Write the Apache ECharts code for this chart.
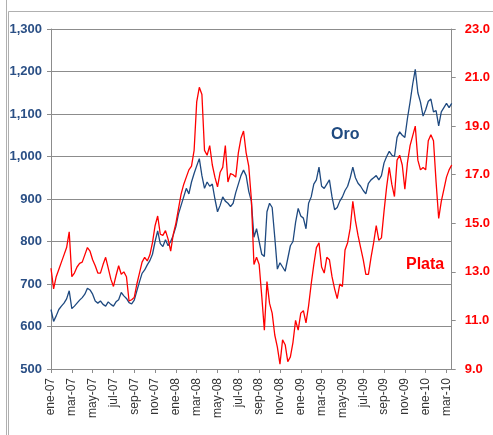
<!DOCTYPE html>
<html>
<head>
<meta charset="utf-8">
<style>
  html, body { margin: 0; padding: 0; background: #fff; }
  #chart { width: 493px; height: 435px; }
</style>
<script src="https://cdn.jsdelivr.net/npm/echarts@6/dist/echarts.min.js"></script>
</head>
<body>
<div id="chart"></div>
<script>
// Oro (US$/oz, eje izq.) y Plata (US$/oz, eje der.), ene-07 a mar-10
// una muestra cada 1/4 de mes
const paso = 0.25

const meses = ['ene', 'feb', 'mar', 'abr', 'may', 'jun', 'jul', 'ago', 'sep', 'oct', 'nov', 'dic']

const oro = [
  640, 612, 625, 640, 648, 655, 665, 684, 642, 648, 655, 662,
  668, 676, 690, 686, 676, 660, 655, 660, 652, 648, 658, 652,
  648, 658, 663, 680, 672, 666, 656, 653, 662, 684, 705, 725,
  733, 745, 755, 770, 800, 825, 795, 788, 804, 790, 800, 815,
  835, 865, 885, 905, 925, 912, 940, 960, 978, 995, 955, 925,
  940, 930, 935, 900, 870, 885, 905, 895, 890, 882, 890, 915,
  935, 955, 968, 955, 918, 895, 810, 830, 800, 770, 765, 870,
  890, 880, 810, 735, 750, 740, 730, 760, 790, 800, 845, 878,
  860, 855, 830, 890, 905, 935, 945, 975, 930, 925, 935, 945,
  905, 875, 880, 895, 905, 920, 930, 950, 975, 950, 937, 930,
  920, 912, 937, 945, 950, 955, 945, 955, 985, 1000, 1012, 1003,
  1000, 1045, 1058, 1050, 1045, 1090, 1128, 1170, 1205, 1150, 1128, 1095,
  1110, 1130, 1135, 1105, 1108, 1072, 1105, 1115, 1125, 1115, 1125
]

const plata = [
  13.15, 12.3, 12.8, 13.1, 13.4, 13.7, 14.0, 14.65, 12.8, 12.95, 13.2, 13.35,
  13.4, 13.7, 14.0, 13.85, 13.5, 13.25, 12.95, 12.95, 13.3, 13.6, 13.15, 12.7,
  12.4, 12.85, 13.25, 12.9, 13.0, 12.8, 11.8, 11.85, 11.95, 12.5, 12.95, 13.4,
  13.6, 13.45, 13.7, 14.2, 14.9, 15.3, 14.55, 14.5, 14.7, 14.35, 13.85, 14.55,
  15.0, 15.6, 16.2, 16.6, 16.9, 17.2, 17.35, 18.0, 20.0, 20.6, 20.3, 18.0,
  17.8, 18.2, 17.4, 16.9, 16.5, 17.1, 17.3, 18.2, 16.7, 17.05, 17.0, 16.9,
  17.9, 18.5, 18.8, 17.9, 17.35, 16.0, 13.3, 13.6, 13.3, 12.0, 10.6, 12.6,
  11.7, 11.3, 10.4, 9.9, 9.2, 10.2, 10.0, 9.3, 9.5, 10.1, 11.0, 10.6,
  11.3, 11.4, 10.9, 11.6, 12.5, 13.3, 14.0, 14.2, 13.2, 12.95, 13.6, 13.5,
  12.8, 12.3, 11.9, 12.5, 12.4, 13.9, 14.2, 14.8, 15.9, 15.1, 14.5, 14.0,
  13.5, 12.9, 12.9, 13.6, 14.2, 14.9, 14.3, 14.4, 15.5, 16.5, 17.3, 16.6,
  16.1, 17.6, 17.8, 17.4, 16.4, 17.5, 18.2, 18.6, 19.0, 17.6, 17.2, 17.3,
  17.2, 18.4, 18.65, 18.4, 16.7, 15.2, 15.9, 16.4, 16.9, 17.2, 17.4
]

const azul = '#1F4A80'
const rojo = '#FF0000'

function serie(valores) {
  return valores.map((v, i) => [i * paso, v])
}

function etiquetaMes(v) {
  if (Math.abs(v - Math.round(v)) > 1e-6) return ''
  const m = Math.round(v)
  if (m % 2 !== 0) return ''
  const anio = 7 + Math.floor(m / 12)
  return meses[m % 12] + '-' + String(anio).padStart(2, '0')
}

const chart = echarts.init(document.getElementById('chart'), null, { renderer: 'canvas' })

chart.setOption({
  animation: false,
  backgroundColor: '#fff',
  grid: { left: 51, right: 31, top: 29, bottom: 66, containLabel: false },
  xAxis: {
    type: 'value',
    min: 0,
    max: 38.5,
    interval: 2,
    axisLine: { lineStyle: { color: '#8c8c8c', width: 1 } },
    axisTick: { show: true, length: 4, lineStyle: { color: '#8c8c8c' } },
    splitLine: { show: false },
    axisLabel: {
      rotate: 90,
      margin: 9,
      fontFamily: 'Liberation Sans, Arial, sans-serif',
      fontSize: 12,
      color: '#333',
      showMaxLabel: false,
      formatter: etiquetaMes
    }
  },
  yAxis: [
    {
      type: 'value',
      min: 500,
      max: 1300,
      interval: 100,
      axisLine: { show: true, lineStyle: { color: '#8c8c8c' } },
      axisTick: { show: true, length: 4, lineStyle: { color: '#8c8c8c' } },
      splitLine: { show: true, lineStyle: { color: '#8c8c8c', width: 1 } },
      axisLabel: {
        margin: 9,
        fontFamily: 'Liberation Sans, Arial, sans-serif',
        fontSize: 13,
        fontWeight: 'bold',
        color: '#2A4F85',
        formatter: v => v.toLocaleString('en-US')
      }
    },
    {
      type: 'value',
      min: 9,
      max: 23,
      interval: 2,
      position: 'right',
      axisLine: { show: true, lineStyle: { color: '#8c8c8c' } },
      axisTick: { show: true, length: 4, lineStyle: { color: '#8c8c8c' } },
      splitLine: { show: false },
      axisLabel: {
        margin: 13,
        fontFamily: 'Liberation Sans, Arial, sans-serif',
        fontSize: 13,
        fontWeight: 'bold',
        color: rojo,
        formatter: v => v.toFixed(1)
      }
    }
  ],
  series: [
    {
      name: 'Oro',
      type: 'line',
      yAxisIndex: 0,
      data: serie(oro),
      showSymbol: false,
      lineStyle: { color: azul, width: 1.3 },
      itemStyle: { color: azul },
      z: 2
    },
    {
      name: 'Plata',
      type: 'line',
      yAxisIndex: 1,
      data: serie(plata),
      showSymbol: false,
      lineStyle: { color: rojo, width: 1.3 },
      itemStyle: { color: rojo },
      z: 3
    }
  ],
  graphic: [
    // marco exterior
    { type: 'line', shape: { x1: 6.5, y1: 0, x2: 6.5, y2: 435 }, style: { stroke: '#b0b0b0', lineWidth: 1 } },
    { type: 'polyline', shape: { points: [[8.5, 435], [8.5, 11.5], [493, 11.5]] }, style: { stroke: '#b0b0b0', lineWidth: 1, fill: null } },
    // rótulos de las series
    {
      type: 'text', left: 331, top: 127,
      style: { text: 'Oro', fill: azul, font: 'bold 16px "Liberation Sans", Arial, sans-serif' }
    },
    {
      type: 'text', left: 406, top: 257,
      style: { text: 'Plata', fill: rojo, font: 'bold 16px "Liberation Sans", Arial, sans-serif' }
    }
  ]
})
</script>
</body>
</html>
